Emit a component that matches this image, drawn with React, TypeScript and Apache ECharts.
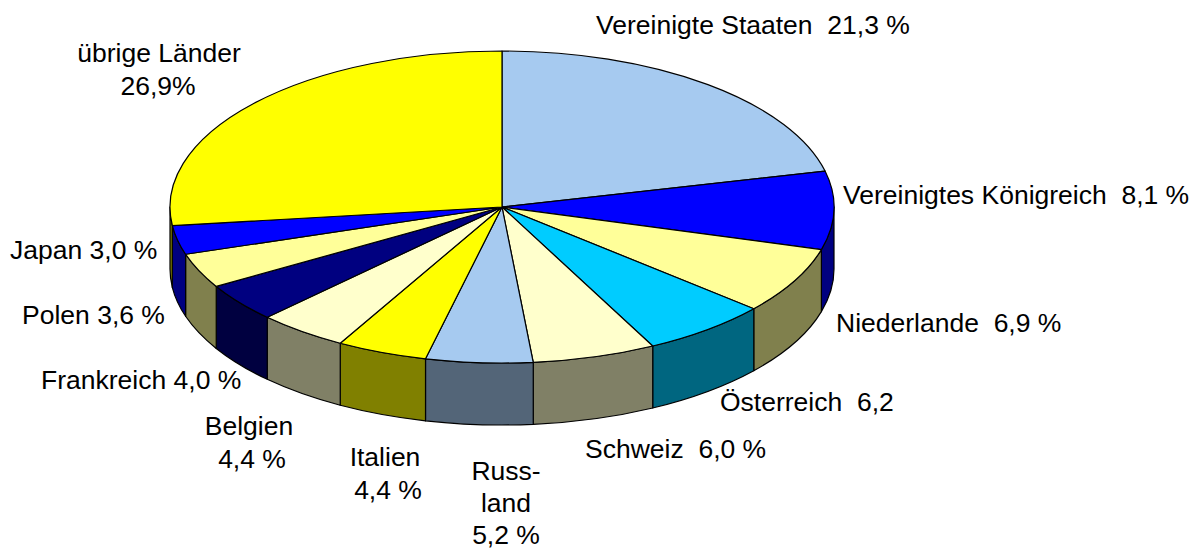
import React, { useEffect, useRef } from "react";
import * as echarts from "echarts";

const countries = ["Vereinigte Staaten", "Vereinigtes Königreich", "Niederlande", "Österreich", "Schweiz", "Russland", "Italien", "Belgien", "Frankreich", "Polen", "Japan", "übrige Länder"];
const shares = [21.3, 8.1, 6.9, 6.2, 6.0, 5.2, 4.4, 4.4, 4.0, 3.6, 3.0, 26.9];
const topColors = ["#A6CAF0", "#0000FF", "#FFFF99", "#00CCFF", "#FFFFCC", "#A6CAF0", "#FFFF00", "#FFFFCC", "#000080", "#FFFF99", "#0000FF", "#FFFF00"];
const sideColors = ["#536578", "#000080", "#80804D", "#006680", "#808066", "#536578", "#808000", "#808066", "#000040", "#80804D", "#000080", "#808000"];

// one entry per text line: text, x, y (middle), align
const labelLines: [string, number, number, "left" | "center"][] = [
  ["Vereinigte Staaten  21,3 %", 596, 25, "left"],
  ["übrige Länder", 159, 53, "center"],
  ["26,9%", 158, 86, "center"],
  ["Vereinigtes Königreich  8,1 %", 843, 195, "left"],
  ["Niederlande  6,9 %", 836, 323, "left"],
  ["Österreich  6,2", 720, 402, "left"],
  ["Schweiz  6,0 %", 585, 449, "left"],
  ["Russ-", 506, 471, "center"],
  ["land", 506, 503, "center"],
  ["5,2 %", 506, 535, "center"],
  ["Italien", 385, 457, "center"],
  ["4,4 %", 388, 490, "center"],
  ["Belgien", 249, 426, "center"],
  ["4,4 %", 252, 459, "center"],
  ["Frankreich 4,0 %", 41, 380, "left"],
  ["Polen 3,6 %", 22, 315, "left"],
  ["Japan 3,0 %", 10, 250, "left"],
];

const CX = 502, CY = 207, RX = 332, RY = 156, DEPTH = 62;
const total = shares.reduce((a, b) => a + b, 0);
const starts: number[] = [];
shares.reduce((acc, v, i) => { starts[i] = acc; return acc + v; }, 0);

const px = (t: number) => CX + RX * Math.sin(t);
const py = (t: number, d = 0) => CY - RY * Math.cos(t) + d;
const f = (n: number) => n.toFixed(2);

function topPath(a: number, b: number) {
  const large = b - a > Math.PI ? 1 : 0;
  return `M${CX} ${CY}L${f(px(a))} ${f(py(a))}A${RX} ${RY} 0 ${large} 1 ${f(px(b))} ${f(py(b))}Z`;
}
function sidePath(a0: number, b0: number) {
  const a = Math.max(a0, Math.PI / 2), b = Math.min(b0, (3 * Math.PI) / 2);
  if (b <= a) return null;
  return `M${f(px(a))} ${f(py(a))}A${RX} ${RY} 0 0 1 ${f(px(b))} ${f(py(b))}L${f(px(b))} ${f(py(b, DEPTH))}A${RX} ${RY} 0 0 0 ${f(px(a))} ${f(py(a, DEPTH))}Z`;
}

export default function App() {
  const ref = useRef<HTMLDivElement>(null);
  useEffect(() => {
    const chart = echarts.init(ref.current!, undefined, { renderer: "svg" });
    const lineStyle = { stroke: "#000", lineWidth: 1.2, lineJoin: "round" };
    chart.setOption({
      animation: false,
      backgroundColor: "#fff",
      graphic: labelLines.map(([text, x, y, align]) => ({
        type: "text", x, y, z: 10,
        style: { text, fill: "#000", font: '26.5px "Liberation Sans", Arial, sans-serif', textAlign: align, textVerticalAlign: "middle" },
      })),
      series: [{
        type: "custom",
        coordinateSystem: "none",
        data: countries.map((name, i) => ({ name, value: [shares[i], starts[i]] })),
        renderItem: (params: any, api: any) => {
          const v = api.value(0), s = api.value(1);
          const a = (s / total) * 2 * Math.PI, b = ((s + v) / total) * 2 * Math.PI;
          const idx = params.dataIndex;
          const children: any[] = [];
          const side = sidePath(a, b);
          if (side) children.push({ type: "path", shape: { pathData: side }, style: { fill: sideColors[idx], ...lineStyle } });
          children.push({ type: "path", shape: { pathData: topPath(a, b) }, style: { fill: topColors[idx], ...lineStyle } });
          return { type: "group", children };
        },
      }],
    });
    return () => chart.dispose();
  }, []);
  return <div ref={ref} style={{ position: "fixed", left: 0, top: 0, width: 1203, height: 549 }} />;
}
